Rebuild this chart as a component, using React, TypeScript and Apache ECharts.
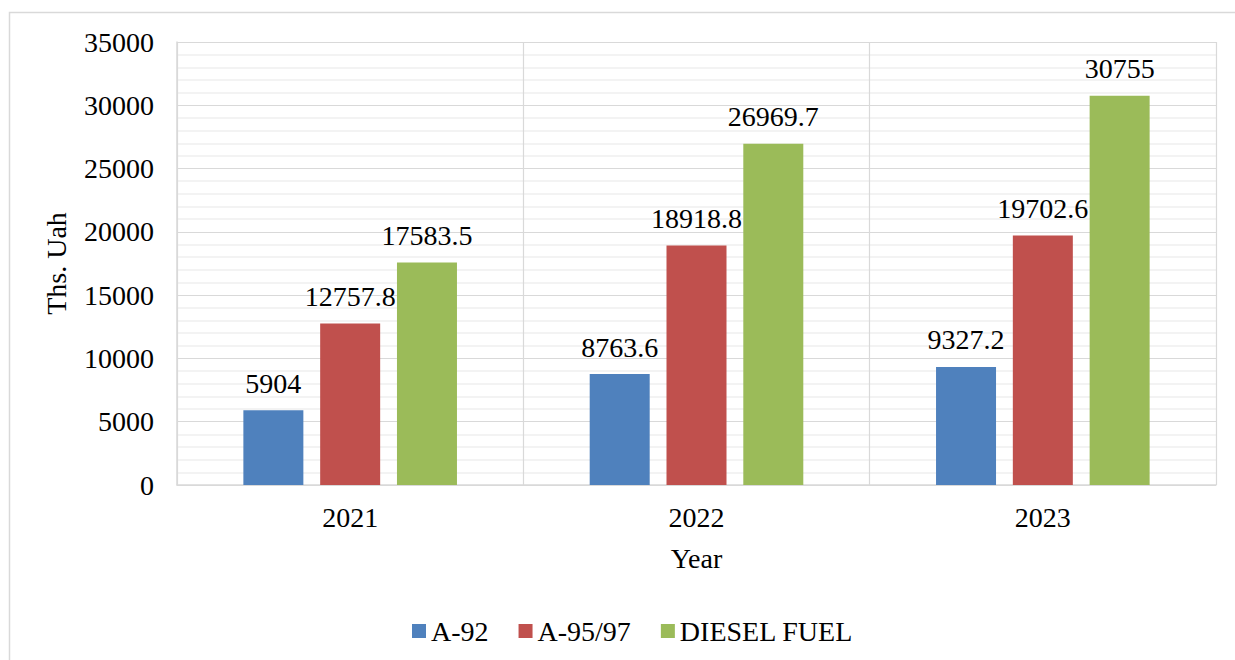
import React, { useEffect, useRef } from "react";
import * as echarts from "echarts";

const years = ["2021", "2022", "2023"];
const seriesNames = ["A-92", "A-95/97", "DIESEL FUEL"];
const a92 = [5904, 8763.6, 9327.2];
const a9597 = [12757.8, 18918.8, 19702.6];
const diesel = [17583.5, 26969.7, 30755];
const colors = ["#4f81bd", "#c0504d", "#9bbb59"];

const FONT = "Liberation Serif";

export default function App() {
  const ref = useRef<HTMLDivElement>(null);
  useEffect(() => {
    if (!ref.current) return;
    const chart = echarts.init(ref.current, undefined, { renderer: "svg" });
    const values = [a92, a9597, diesel];
    const txt = { fontFamily: FONT, fontSize: 28, color: "#000" };
    chart.setOption({
      animation: false,
      backgroundColor: "#ffffff",
      textStyle: { fontFamily: FONT, color: "#000" },
      graphic: [
        {
          type: "rect",
          shape: { x: 9.5, y: 12.5, width: 1300, height: 700 },
          style: { fill: "none", stroke: "#d9d9d9", lineWidth: 1.5 },
          silent: true,
        },
      ],
      grid: { left: 177, top: 42, right: 19, bottom: 175 },
      legend: {
        data: seriesNames,
        left: 407,
        top: 612,
        icon: "rect",
        itemWidth: 14,
        itemHeight: 14,
        itemGap: 30,
        textStyle: { ...txt },
      },
      xAxis: {
        type: "category",
        data: years,
        name: "Year",
        nameLocation: "middle",
        nameGap: 59,
        nameTextStyle: { ...txt },
        axisLine: { lineStyle: { color: "#d9d9d9", width: 1.5 } },
        axisTick: { show: false },
        axisLabel: { ...txt, margin: 18 },
        splitLine: { show: true, lineStyle: { color: "#d9d9d9", width: 1.2 } },
      },
      yAxis: {
        type: "value",
        min: 0,
        max: 35000,
        interval: 5000,
        name: "Ths. Uah",
        nameLocation: "middle",
        nameGap: 107,
        nameRotate: 90,
        nameTextStyle: { ...txt },
        axisLine: { show: true, lineStyle: { color: "#d9d9d9", width: 1.5 } },
        axisTick: { show: false },
        axisLabel: { ...txt, margin: 23, formatter: (v: number) => String(v) },
        splitLine: { show: true, lineStyle: { color: "#d9d9d9", width: 1.2 } },
        minorTick: { show: false, splitNumber: 5 },
        minorSplitLine: { show: true, lineStyle: { color: "#efefef", width: 1.5 } },
      },
      series: seriesNames.map((name, i) => ({
        name,
        type: "bar",
        data: values[i],
        barWidth: 60,
        barGap: "28%",
        itemStyle: { color: colors[i] },
        label: {
          show: true,
          position: "top",
          distance: 13,
          ...txt,
          formatter: (p: any) => String(p.value),
        },
      })),
    });
    return () => chart.dispose();
  }, []);
  return (
    <div
      ref={ref}
      style={{ position: "absolute", left: 0, top: 0, width: 1235, height: 660 }}
    />
  );
}
